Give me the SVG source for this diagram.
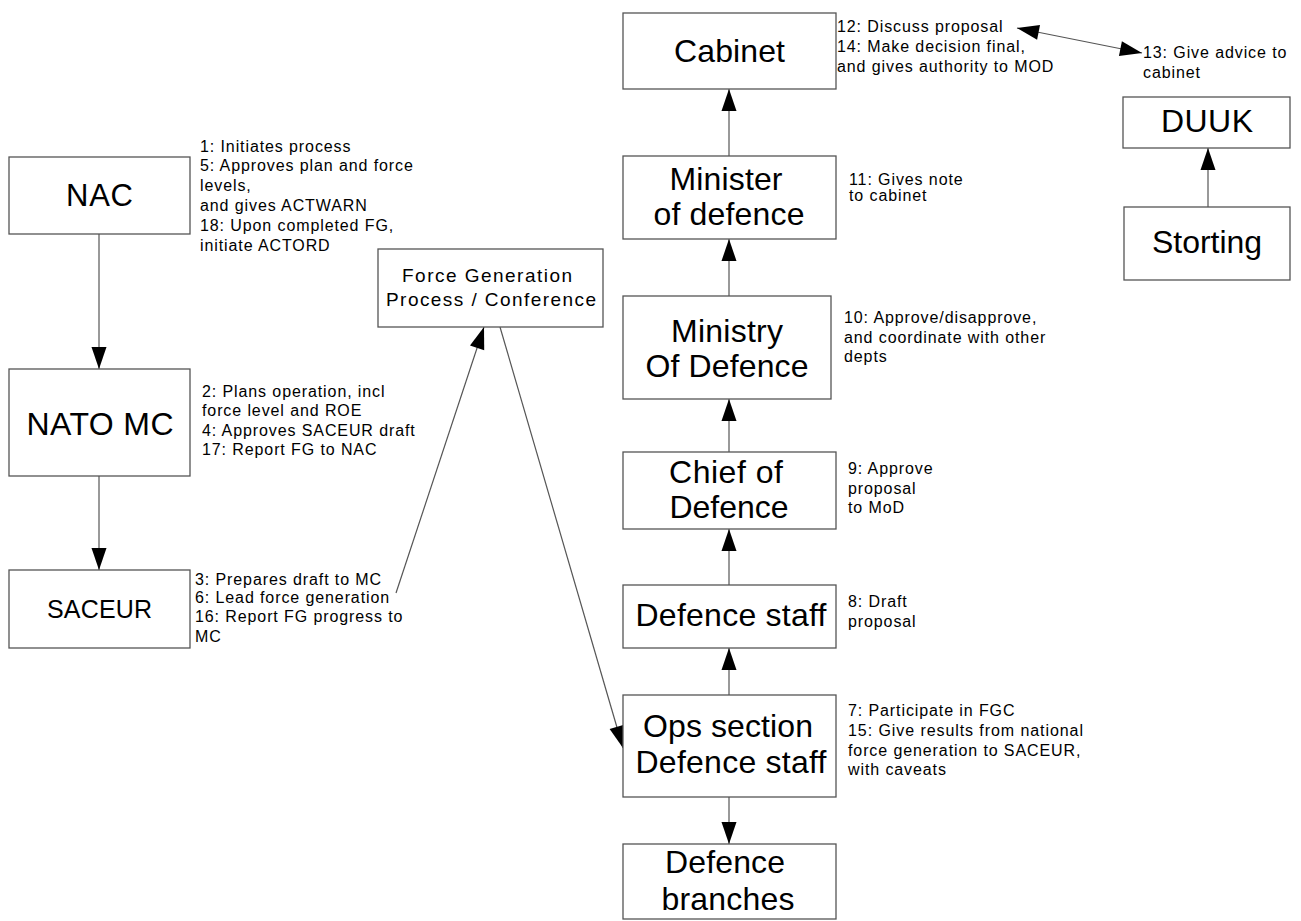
<svg xmlns="http://www.w3.org/2000/svg" width="1301" height="921" viewBox="0 0 1301 921">
<style>
.box{fill:#fff;stroke:#555;stroke-width:1.3}
.lbl{font-family:"Liberation Sans",Arial,sans-serif;font-size:32px;fill:#000;text-anchor:middle}
.fg{font-family:"Liberation Sans",Arial,sans-serif;font-size:19px;fill:#000;text-anchor:middle}
.ann{font-family:"Liberation Sans",Arial,sans-serif;font-size:16px;fill:#000;letter-spacing:0.9px}
.con{fill:none;stroke:#555;stroke-width:1.2}
</style>
<defs>
<marker id="ah" markerUnits="userSpaceOnUse" markerWidth="22" markerHeight="15" refX="22" refY="7.5" orient="auto-start-reverse" overflow="visible">
<path d="M0,0 L22,7.5 L0,15 z" fill="#000"/>
</marker>
</defs>
<rect width="1301" height="921" fill="#fff"/>
<g id="connectors">
<line class="con" x1="99" y1="234" x2="99" y2="369" marker-end="url(#ah)"/>
<line class="con" x1="99" y1="476" x2="99" y2="570" marker-end="url(#ah)"/>
<line class="con" x1="396" y1="593" x2="484" y2="327" marker-end="url(#ah)"/>
<line class="con" x1="500" y1="327" x2="623" y2="748" marker-end="url(#ah)"/>
<line class="con" x1="729" y1="156" x2="729" y2="89" marker-end="url(#ah)"/>
<line class="con" x1="729" y1="296" x2="729" y2="239" marker-end="url(#ah)"/>
<line class="con" x1="729" y1="452" x2="729" y2="399" marker-end="url(#ah)"/>
<line class="con" x1="729" y1="585" x2="729" y2="529" marker-end="url(#ah)"/>
<line class="con" x1="729" y1="695" x2="729" y2="648" marker-end="url(#ah)"/>
<line class="con" x1="729" y1="797" x2="729" y2="844" marker-end="url(#ah)"/>
<line class="con" x1="1208" y1="207" x2="1208" y2="148" marker-end="url(#ah)"/>
<line class="con" x1="1017" y1="28" x2="1142" y2="53" marker-start="url(#ah)" marker-end="url(#ah)"/>
</g>
<g id="nac">
<rect class="box" x="9" y="157" width="181" height="77"/>
<text class="lbl" x="99.5" y="206" textLength="67" style="font-size:31px">NAC</text>
<text class="ann" x="200" y="152">1: Initiates process</text>
<text class="ann" x="200" y="171">5: Approves plan and force</text>
<text class="ann" x="200" y="191">levels,</text>
<text class="ann" x="200" y="211">and gives ACTWARN</text>
<text class="ann" x="200" y="231">18: Upon completed FG,</text>
<text class="ann" x="200" y="251">initiate ACTORD</text>
</g>
<g id="nato-mc">
<rect class="box" x="9" y="369" width="181" height="107"/>
<text class="lbl" x="100" y="435" textLength="147">NATO MC</text>
<text class="ann" x="202" y="397">2: Plans operation, incl</text>
<text class="ann" x="202" y="416">force level and ROE</text>
<text class="ann" x="202" y="436">4: Approves SACEUR draft</text>
<text class="ann" x="202" y="455">17: Report FG to NAC</text>
</g>
<g id="saceur">
<rect class="box" x="9" y="570" width="181" height="78"/>
<text class="lbl" x="99.5" y="618" textLength="105" style="font-size:25px">SACEUR</text>
<text class="ann" x="195" y="585">3: Prepares draft to MC</text>
<text class="ann" x="195" y="603">6: Lead force generation</text>
<text class="ann" x="195" y="622">16: Report FG progress to</text>
<text class="ann" x="195" y="642">MC</text>
</g>
<g id="force-generation">
<rect class="box" x="378" y="249" width="225" height="78"/>
<text class="fg" x="487" y="282" textLength="170">Force Generation</text>
<text class="fg" x="491" y="306" textLength="210">Process / Conference</text>
</g>
<g id="cabinet">
<rect class="box" x="623" y="13" width="213" height="76"/>
<text class="lbl" x="729.5" y="62" textLength="111">Cabinet</text>
<text class="ann" x="837" y="32">12: Discuss proposal</text>
<text class="ann" x="837" y="52">14: Make decision final,</text>
<text class="ann" x="837" y="72">and gives authority to MOD</text>
</g>
<g id="minister">
<rect class="box" x="623" y="156" width="213" height="83"/>
<text class="lbl" x="726" y="190" textLength="113">Minister</text>
<text class="lbl" x="729" y="225" textLength="151">of defence</text>
<text class="ann" x="849" y="185">11: Gives note</text>
<text class="ann" x="849" y="201">to cabinet</text>
</g>
<g id="ministry">
<rect class="box" x="623" y="296" width="208" height="103"/>
<text class="lbl" x="727" y="342" textLength="112">Ministry</text>
<text class="lbl" x="727" y="377" textLength="163">Of Defence</text>
<text class="ann" x="844" y="323">10: Approve/disapprove,</text>
<text class="ann" x="844" y="343">and coordinate with other</text>
<text class="ann" x="844" y="362">depts</text>
</g>
<g id="chief">
<rect class="box" x="623" y="452" width="213" height="77"/>
<text class="lbl" x="726" y="483" textLength="114">Chief of</text>
<text class="lbl" x="729" y="518" textLength="119">Defence</text>
<text class="ann" x="848" y="474">9: Approve</text>
<text class="ann" x="848" y="494">proposal</text>
<text class="ann" x="848" y="513">to MoD</text>
</g>
<g id="defence-staff">
<rect class="box" x="623" y="585" width="213" height="63"/>
<text class="lbl" x="731" y="626" textLength="191">Defence staff</text>
<text class="ann" x="848" y="607">8: Draft</text>
<text class="ann" x="848" y="627">proposal</text>
</g>
<g id="ops-section">
<rect class="box" x="623" y="695" width="213" height="102"/>
<text class="lbl" x="728" y="737" textLength="170">Ops section</text>
<text class="lbl" x="731" y="773" textLength="191">Defence staff</text>
<text class="ann" x="848" y="716">7: Participate in FGC</text>
<text class="ann" x="848" y="736" textLength="235" style="letter-spacing:0">15: Give results from national</text>
<text class="ann" x="848" y="756">force generation to SACEUR,</text>
<text class="ann" x="848" y="775">with caveats</text>
</g>
<g id="defence-branches">
<rect class="box" x="623" y="844" width="213" height="75"/>
<text class="lbl" x="725" y="873" textLength="120">Defence</text>
<text class="lbl" x="728" y="910" textLength="133">branches</text>
</g>
<g id="duuk">
<rect class="box" x="1123" y="97" width="167" height="51"/>
<text class="lbl" x="1207" y="132" textLength="92">DUUK</text>
<text class="ann" x="1143" y="58">13: Give advice to</text>
<text class="ann" x="1143" y="78">cabinet</text>
</g>
<g id="storting">
<rect class="box" x="1124" y="207" width="166" height="73"/>
<text class="lbl" x="1207" y="253" textLength="110">Storting</text>
</g>
</svg>
